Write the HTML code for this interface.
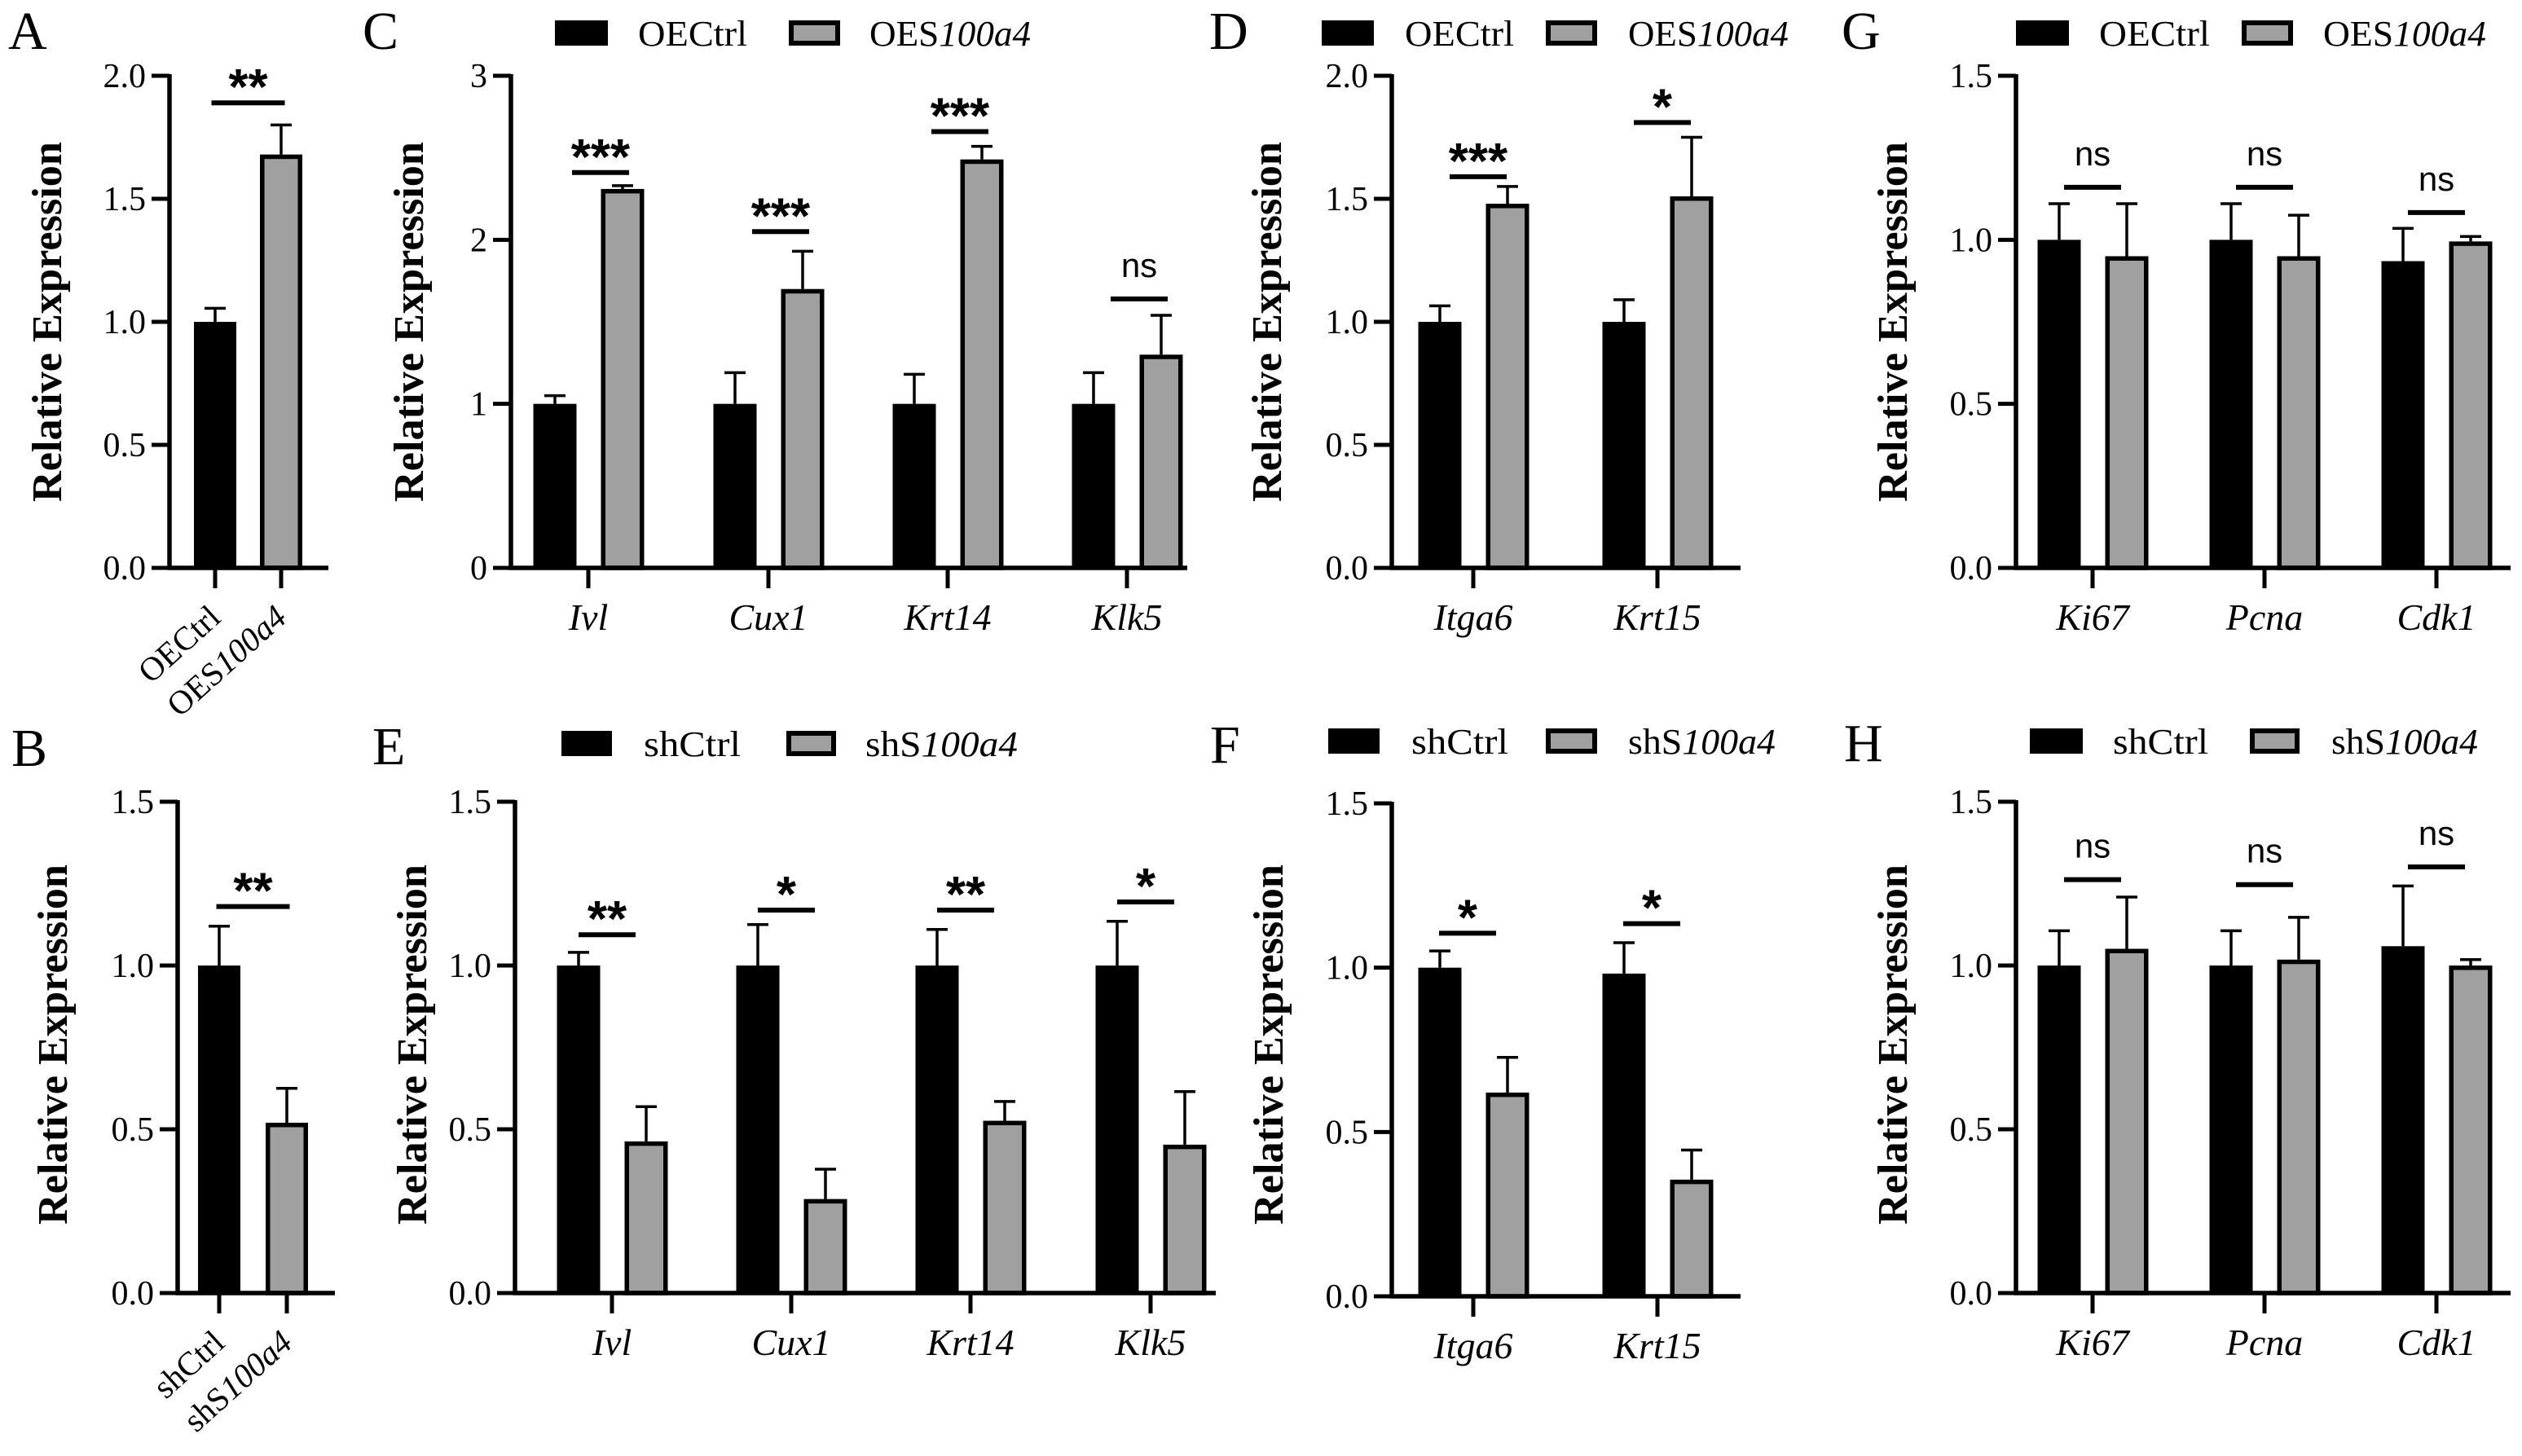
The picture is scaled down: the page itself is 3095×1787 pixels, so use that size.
<!DOCTYPE html>
<html><head><meta charset="utf-8"><style>
html,body{margin:0;padding:0;background:#fff;}
svg{display:block;}
text{font-family:"Liberation Serif",serif;fill:#000;}
</style></head><body>
<svg id="fig" width="3095" height="1787" viewBox="0 0 3095 1787" xmlns="http://www.w3.org/2000/svg"></svg>
<script>
// ---- Data ----
const aCats = ["OECtrl", "OES100a4"];
const aValues = [1.0, 1.68];
const aErrTops = [1.055, 1.80];
const aSigY = [1.89];
const aSigLabels = ["**"];

const bCats = ["shCtrl", "shS100a4"];
const bValues = [1.0, 0.52];
const bErrTops = [1.12, 0.625];
const bSigY = [1.18];
const bSigLabels = ["**"];

const cCats = ["Ivl", "Cux1", "Krt14", "Klk5"];
const cCtrl = [1.0, 1.0, 1.0, 1.0];
const cCtrlErr = [1.05, 1.19, 1.18, 1.19];
const cTreat = [2.31, 1.70, 2.49, 1.30];
const cTreatErr = [2.33, 1.93, 2.57, 1.54];
const cSigY = [2.41, 2.05, 2.66, 1.64];
const cSigLabels = ["***", "***", "***", "ns"];
const cTicks = [0, 1, 2, 3];

const dCats = ["Itga6", "Krt15"];
const dCtrl = [1.0, 1.0];
const dCtrlErr = [1.065, 1.09];
const dTreat = [1.48, 1.51];
const dTreatErr = [1.55, 1.75];
const dSigY = [1.59, 1.81];
const dSigLabels = ["***", "*"];

const gCats = ["Ki67", "Pcna", "Cdk1"];
const gCtrl = [1.0, 1.0, 0.935];
const gCtrlErr = [1.11, 1.11, 1.035];
const gTreat = [0.95, 0.95, 0.995];
const gTreatErr = [1.11, 1.075, 1.01];
const gSigY = [1.16, 1.16, 1.083];
const gSigLabels = ["ns", "ns", "ns"];

const eCats = ["Ivl", "Cux1", "Krt14", "Klk5"];
const eCtrl = [1.0, 1.0, 1.0, 1.0];
const eCtrlErr = [1.04, 1.125, 1.11, 1.135];
const eTreat = [0.463, 0.287, 0.526, 0.453];
const eTreatErr = [0.569, 0.378, 0.585, 0.615];
const eSigY = [1.094, 1.169, 1.169, 1.194];
const eSigLabels = ["**", "*", "**", "*"];

const fCats = ["Itga6", "Krt15"];
const fCtrl = [1.0, 0.982];
const fCtrlErr = [1.051, 1.076];
const fTreat = [0.62, 0.355];
const fTreatErr = [0.727, 0.445];
const fSigY = [1.105, 1.134];
const fSigLabels = ["*", "*"];

const hCats = ["Ki67", "Pcna", "Cdk1"];
const hCtrl = [1.0, 1.0, 1.059];
const hCtrlErr = [1.106, 1.106, 1.243];
const hTreat = [1.051, 1.018, 1.0];
const hTreatErr = [1.209, 1.147, 1.018];
const hSigY = [1.262, 1.247, 1.301];
const hSigLabels = ["ns", "ns", "ns"];

const ticks2 = [0, 0.5, 1.0, 1.5, 2.0];
const ticks15 = [0, 0.5, 1.0, 1.5];

// ---- helpers ----
const NS = "http://www.w3.org/2000/svg";
const svg = document.getElementById("fig");
function mk(tag, attrs, parent) {
  const el = document.createElementNS(NS, tag);
  for (const k in attrs) el.setAttribute(k, attrs[k]);
  (parent || svg).appendChild(el);
  return el;
}
const GREY = "#a0a0a0";

function yScale(p, v) { return p.yBot - (v / p.yMax) * (p.yBot - p.yTop); }

function drawAxes(p, g, ticks, decimals) {
  const ax = mk("line", {x1: p.axisX, y1: p.yTop - 2, x2: p.axisX, y2: p.yBot + 2.5, stroke: "#000", "stroke-width": 5.5}, g);
  
  
  const xl = mk("line", {x1: p.axisX - 2.5, y1: p.yBot, x2: p.xEnd, y2: p.yBot, stroke: "#000", "stroke-width": 5.5}, g);
  
  
  ticks.forEach(t => {
    const y = yScale(p, t);
    const tk = mk("line", {x1: p.axisX - 22, y1: y, x2: p.axisX, y2: y, stroke: "#000", "stroke-width": 5}, g);
    
    
    const lb = mk("text", {x: p.axisX - 29, y: y + 14, "text-anchor": "end", "font-size": 42}, g);
    lb.textContent = t.toFixed(decimals);
    
    
  });
  const tt = mk("text", {x: 0, y: 0, "text-anchor": "middle", "font-size": 52, "font-weight": "bold",
    textLength: 442, lengthAdjust: "spacingAndGlyphs",
    transform: `translate(${p.titleX + 17},${p.titleY}) rotate(-90)`}, g);
  tt.textContent = "Relative Expression";
  
  
}

function drawBar(p, g, cx, w, v, errTop, grey, name) {
  const yT = yScale(p, v);
  if (grey) {
    const r = mk("rect", {x: cx - w / 2 + 2.75, y: yT + 2.75, width: w - 5.5, height: p.yBot - yT - 2.75, fill: GREY, stroke: "#000", "stroke-width": 5.5}, g);
    
    
  } else {
    const r = mk("rect", {x: cx - w / 2, y: yT, width: w, height: p.yBot - yT, fill: "#000"}, g);
    
    
  }
  const ye = yScale(p, errTop);
  const e1 = mk("line", {x1: cx, y1: yT, x2: cx, y2: ye, stroke: "#000", "stroke-width": 3.5}, g);
  
  
  const e2 = mk("line", {x1: cx - 13, y1: ye, x2: cx + 13, y2: ye, stroke: "#000", "stroke-width": 3.5}, g);
  
  
}

function drawSig(p, g, cx, half, v, label) {
  const y = yScale(p, v);
  const l = mk("line", {x1: cx - half, y1: y, x2: cx + half, y2: y, stroke: "#000", "stroke-width": 6}, g);
  
  
  let t;
  if (label === "ns") {
    t = mk("text", {x: cx, y: y - 27, "text-anchor": "middle", "font-size": 42,
      style: 'font-family:"Liberation Sans Narrow","Liberation Sans",sans-serif'}, g);
  } else {
    t = mk("text", {x: cx, y: y + 2, "text-anchor": "middle", "font-size": 62, "font-weight": "bold",
      style: 'font-family:"Liberation Sans",sans-serif'}, g);
  }
  t.textContent = label;
  
  
}

function drawCatTicks(p, g, cats, italic) {
  cats.forEach((c, i) => {
    const x = p.catX[i];
    const tk = mk("line", {x1: x, y1: p.yBot, x2: x, y2: p.yBot + 25, stroke: "#000", "stroke-width": 5}, g);
    
    
    if (italic) {
      const t = mk("text", {x: x, y: p.yBot + 76, "text-anchor": "middle", "font-size": 46, "font-style": "italic"}, g);
      t.textContent = c;
      
      
    }
  });
}

function rotLabel(g, x, y, prefix, italicPart) {
  const t = mk("text", {x: 0, y: 0, "text-anchor": "end", "font-size": 41,
    transform: `translate(${x},${y}) rotate(-42)`}, g);
  const s1 = mk("tspan", {}, t);
  s1.textContent = prefix;
  if (italicPart) {
    const s2 = mk("tspan", {"font-style": "italic"}, t);
    s2.textContent = italicPart;
  }
  
  
}

function letter(ch, x, y) {
  const t = mk("text", {x: x, y: y, "font-size": 66});
  t.textContent = ch;
  
  
}

function legend(xs, yTop, ctrlTxt, pre, ital, lens) {
  const g = mk("g", {});
  
  
  const r1 = mk("rect", {x: xs[0], y: yTop, width: xs[1] - xs[0], height: 31, fill: "#000"}, g);
  
  
  const t1 = mk("text", {x: xs[2], y: yTop + 31, "font-size": 44, textLength: lens[0], lengthAdjust: "spacingAndGlyphs"}, g);
  t1.textContent = ctrlTxt;
  
  
  const r2 = mk("rect", {x: xs[3] + 3, y: yTop + 3, width: xs[4] - xs[3] - 6, height: 25, fill: GREY, stroke: "#000", "stroke-width": 6}, g);
  
  
  const t2 = mk("text", {x: xs[5], y: yTop + 31, "font-size": 44, textLength: lens[1], lengthAdjust: "spacingAndGlyphs"}, g);
  const s1 = mk("tspan", {}, t2); s1.textContent = pre;
  const s2 = mk("tspan", {"font-style": "italic"}, t2); s2.textContent = ital;
  
  
}

function singlePanel(name, p, cats, vals, errs, sigY, sigLab, ticks, labelParts) {
  const g = mk("g", {});
  
  
  vals.forEach((v, i) => drawBar(p, g, p.catX[i], 52, v, errs[i], i === 1, 'bar-' + cats[i].toLowerCase()));
  drawAxes(p, g, ticks, 1);
  drawCatTicks(p, g, cats, false);
  labelParts.forEach((lp, i) => rotLabel(g, p.catX[i] + 9, p.yBot + 64, lp[0], lp[1]));
  sigY.forEach((s, i) => drawSig(p, g, (p.catX[0] + p.catX[1]) / 2, 45, s, sigLab[i]));
}

function groupPanel(name, p, cats, ctrl, ctrlErr, treat, treatErr, sigY, sigLab, ticks, dec) {
  const g = mk("g", {});
  
  
  cats.forEach((c, i) => {
    drawBar(p, g, p.catX[i] - 41, 53, ctrl[i], ctrlErr[i], false, 'bar-control-' + c.toLowerCase());
    drawBar(p, g, p.catX[i] + 42, 53, treat[i], treatErr[i], true, 'bar-treatment-' + c.toLowerCase());
  });
  drawAxes(p, g, ticks, dec);
  drawCatTicks(p, g, cats, true);
  cats.forEach((c, i) => drawSig(p, g, p.catX[i] + p.sigOff, 35, sigY[i], sigLab[i]));
}

// ---- layout ----
const pA = {axisX: 208, yTop: 93, yBot: 697, yMax: 2.0, xEnd: 403, catX: [264, 345], titleX: 58, titleY: 395};
const pB = {axisX: 218, yTop: 984, yBot: 1587, yMax: 1.5, xEnd: 411, catX: [269, 352], titleX: 65, titleY: 1282};
const pC = {axisX: 627, yTop: 93, yBot: 697, yMax: 3, xEnd: 1457, catX: [722, 943, 1163, 1383], titleX: 502, titleY: 395, sigOff: 15};
const pD = {axisX: 1708, yTop: 93, yBot: 697, yMax: 2.0, xEnd: 2136, catX: [1808, 2034], titleX: 1555, titleY: 395, sigOff: 6};
const pG = {axisX: 2474, yTop: 93, yBot: 697, yMax: 1.5, xEnd: 3081, catX: [2568, 2779, 2990], titleX: 2323, titleY: 395, sigOff: 0};
const pE = {axisX: 632, yTop: 984, yBot: 1587, yMax: 1.5, xEnd: 1492, catX: [751, 971, 1191, 1412], titleX: 506, titleY: 1282, sigOff: -6};
const pF = {axisX: 1708, yTop: 986, yBot: 1591, yMax: 1.5, xEnd: 2136, catX: [1808, 2034], titleX: 1557, titleY: 1282, sigOff: -7};
const pH = {axisX: 2474, yTop: 984, yBot: 1587, yMax: 1.5, xEnd: 3081, catX: [2568, 2779, 2990], titleX: 2323, titleY: 1282, sigOff: 0};

singlePanel('panel-a', pA, aCats, aValues, aErrTops, aSigY, aSigLabels, ticks2, [["OECtrl", ""], ["OES", "100a4"]]);
singlePanel('panel-b', pB, bCats, bValues, bErrTops, bSigY, bSigLabels, ticks15, [["shCtrl", ""], ["shS", "100a4"]]);
groupPanel('panel-c', pC, cCats, cCtrl, cCtrlErr, cTreat, cTreatErr, cSigY, cSigLabels, cTicks, 0);
groupPanel('panel-d', pD, dCats, dCtrl, dCtrlErr, dTreat, dTreatErr, dSigY, dSigLabels, ticks2, 1);
groupPanel('panel-g', pG, gCats, gCtrl, gCtrlErr, gTreat, gTreatErr, gSigY, gSigLabels, ticks15, 1);
groupPanel('panel-e', pE, eCats, eCtrl, eCtrlErr, eTreat, eTreatErr, eSigY, eSigLabels, ticks15, 1);
groupPanel('panel-f', pF, fCats, fCtrl, fCtrlErr, fTreat, fTreatErr, fSigY, fSigLabels, ticks15, 1);
groupPanel('panel-h', pH, hCats, hCtrl, hCtrlErr, hTreat, hTreatErr, hSigY, hSigLabels, ticks15, 1);

legend([681, 746, 783, 968, 1031, 1067], 25, "OECtrl", "OES", "100a4", [134, 198]);
legend([1622, 1686, 1724, 1897, 1960, 1998], 25, "OECtrl", "OES", "100a4", [134, 197]);
legend([2474, 2539, 2576, 2751, 2814, 2851], 25, "OECtrl", "OES", "100a4", [136, 200]);
legend([689, 751, 790, 965, 1026, 1062], 897, "shCtrl", "shS", "100a4", [119, 187]);
legend([1630, 1693, 1732, 1897, 1960, 1998], 894, "shCtrl", "shS", "100a4", [119, 181]);
legend([2491, 2556, 2593, 2761, 2822, 2861], 894, "shCtrl", "shS", "100a4", [117, 180]);

letter("A", 10, 60);
letter("C", 445, 60);
letter("D", 1484, 60);
letter("G", 2260, 60);
letter("B", 14, 940);
letter("E", 457, 938);
letter("F", 1485, 936);
letter("H", 2263, 934);
</script>
</body></html>
